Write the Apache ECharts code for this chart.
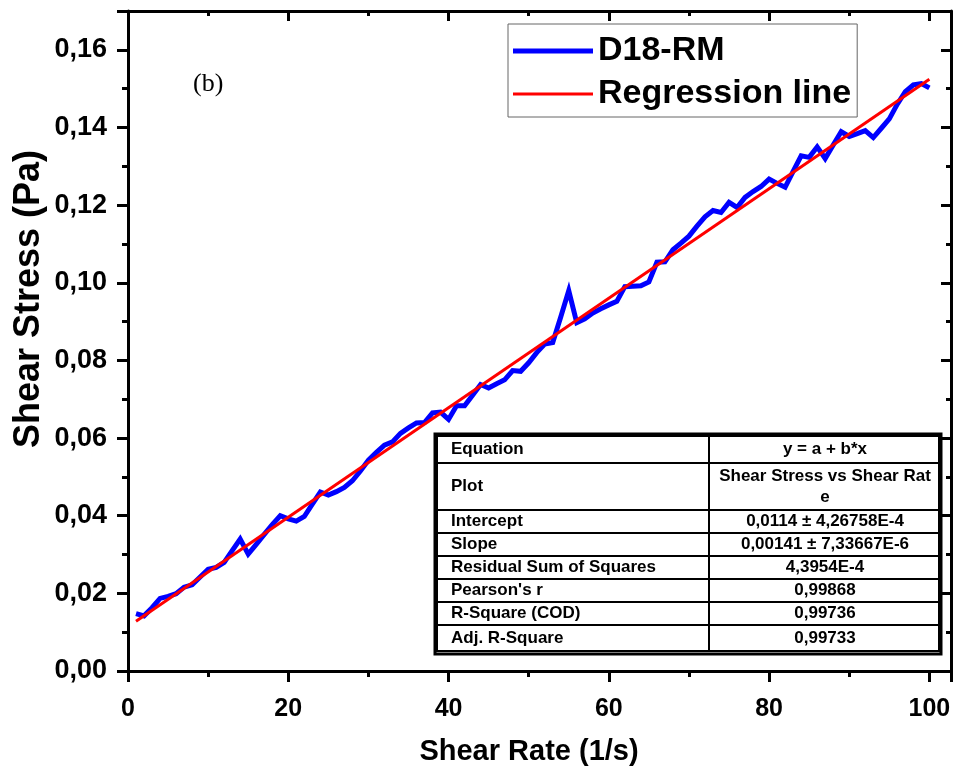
<!DOCTYPE html>
<html>
<head>
<meta charset="utf-8">
<title>Shear stress vs shear rate</title>
<script src="https://cdn.jsdelivr.net/npm/echarts/dist/echarts.min.js"></script>
<style>
  html, body { margin: 0; padding: 0; background: #fff; }
  #main { width: 954px; height: 779px; }
</style>
</head>
<body>
<div id="main"></div>
<script>
// measured curve D18-RM, shear rate 1..100 1/s
var shearStress = [
  0.0148, 0.0142, 0.0163, 0.0187, 0.0192, 0.0199, 0.0216, 0.0222, 0.0242, 0.0262,
  0.0267, 0.0280, 0.0310, 0.0340, 0.0301, 0.0326, 0.0352, 0.0377, 0.0400, 0.0392,
  0.0386, 0.0398, 0.0430, 0.0461, 0.0453, 0.0462, 0.0473, 0.0490, 0.0515, 0.0543,
  0.0563, 0.0582, 0.0590, 0.0612, 0.0626, 0.0639, 0.0640, 0.0665, 0.0667, 0.0648,
  0.0683, 0.0683, 0.0710, 0.0738, 0.0729, 0.0740, 0.0750, 0.0774, 0.0772, 0.0794,
  0.0820, 0.0842, 0.0846, 0.0912, 0.0980, 0.0897, 0.0907, 0.0922, 0.0933, 0.0943,
  0.0952, 0.0990, 0.0991, 0.0992, 0.1002, 0.1053, 0.1054, 0.1085, 0.1102, 0.1120,
  0.1146, 0.1170, 0.1186, 0.1181, 0.1207, 0.1194, 0.1220, 0.1235, 0.1248, 0.1267,
  0.1256, 0.1246, 0.1287, 0.1327, 0.1323, 0.1350, 0.1320, 0.1355, 0.1389, 0.1377,
  0.1384, 0.1392, 0.1374, 0.1398, 0.1422, 0.1460, 0.1492, 0.1510, 0.1513, 0.1502
];
var shearRate = shearStress.map(function (v, i) { return i + 1; });

// regression line end points
var regRate = [1, 100];
var regStress = [0.0128, 0.1524];

// fit table
var tableLabels = ["Equation", "Plot", "Intercept", "Slope", "Residual Sum of Squares",
  "Pearson's r", "R-Square (COD)", "Adj. R-Square"];
var tableValues = ["y = a + b*x", "Shear Stress vs Shear Rat\ne", "0,0114 \u00b1 4,26758E-4",
  "0,00141 \u00b1 7,33667E-6", "4,3954E-4", "0,99868", "0,99736", "0,99733"];

var chart = echarts.init(document.getElementById("main"));

var FONT = "Liberation Sans, Arial, sans-serif";

// table layout
var rowTops = [436, 463, 510, 533, 556, 579, 602, 625];
var tableBottom = 651;
var tLeft = 437, tMid = 709, tRight = 939;
var tableEls = [];
rowTops.forEach(function (top, i) {
  var bottom = i < rowTops.length - 1 ? rowTops[i + 1] : tableBottom;
  tableEls.push({
    type: "rect",
    shape: { x: tLeft, y: top, width: tMid - tLeft, height: bottom - top },
    style: { fill: "#fff", stroke: "#000", lineWidth: 2 }
  });
  tableEls.push({
    type: "rect",
    shape: { x: tMid, y: top, width: tRight - tMid, height: bottom - top },
    style: { fill: "#fff", stroke: "#000", lineWidth: 2 }
  });
  tableEls.push({
    type: "text",
    x: 451, y: (top + bottom) / 2,
    style: { text: tableLabels[i], font: "bold 17px " + FONT, fill: "#000",
      textAlign: "left", textVerticalAlign: "middle" }
  });
  tableEls.push({
    type: "text",
    x: (tMid + tRight) / 2 + 1, y: (top + bottom) / 2,
    style: { text: tableValues[i], font: "bold 17px " + FONT, fill: "#000",
      textAlign: "center", textVerticalAlign: "middle", lineHeight: 21 }
  });
});
tableEls.push({
  type: "rect",
  shape: { x: 435, y: 434, width: 506, height: 220 },
  style: { fill: "none", stroke: "#000", lineWidth: 3 }
});

function yLabel(v) {
  var k = v / 0.02;
  if (Math.abs(k - Math.round(k)) > 1e-6) return "";
  return v.toFixed(2).replace(".", ",");
}
function xLabel(v) {
  var k = v / 20;
  if (Math.abs(k - Math.round(k)) > 1e-6) return "";
  return String(Math.round(v));
}

var lineStyle = { color: "#000", width: 3 };

chart.setOption({
  backgroundColor: "#fff",
  animation: false,
  grid: { left: 128, top: 11, right: 3, bottom: 108 },
  legend: {
    orient: "vertical",
    left: 508,
    top: 24,
    padding: [9, 6, 5, 5],
    itemGap: 7,
    itemWidth: 80,
    itemHeight: 14,
    symbolKeepAspect: true,
    borderColor: "#666",
    borderWidth: 1,
    backgroundColor: "#fff",
    textStyle: { fontSize: 34, fontWeight: "bold", color: "#000", fontFamily: FONT, lineHeight: 36 },
    data: [
      { name: "D18-RM", icon: "path://M0,0H80V5H0Z" },
      { name: "Regression line", icon: "path://M0,0H80V3H0Z" }
    ]
  },
  xAxis: [
    {
      type: "value", position: "bottom", min: 0, max: 102.7, interval: 20,
      axisLine: { show: true, lineStyle: lineStyle },
      axisTick: { show: true, inside: false, length: 11, lineStyle: lineStyle },
      minorTick: { show: true, splitNumber: 2, length: 6, lineStyle: lineStyle },
      splitLine: { show: false },
      axisLabel: { formatter: xLabel, fontSize: 25, fontWeight: "bold", color: "#000", fontFamily: FONT, margin: 26 }
    },
    {
      type: "value", position: "top", min: 0, max: 102.7, interval: 20,
      axisLine: { show: true, onZero: false, lineStyle: lineStyle },
      axisTick: { show: true, inside: true, length: 10, lineStyle: lineStyle },
      minorTick: { show: true, splitNumber: 2, length: 5, lineStyle: lineStyle },
      splitLine: { show: false },
      axisLabel: { show: false }
    }
  ],
  yAxis: [
    {
      type: "value", position: "left", min: 0, max: 0.17, interval: 0.02,
      axisLine: { show: true, lineStyle: lineStyle },
      axisTick: { show: true, inside: false, length: 11, lineStyle: lineStyle },
      minorTick: { show: true, splitNumber: 2, length: 6, lineStyle: lineStyle },
      splitLine: { show: false },
      axisLabel: { formatter: yLabel, fontSize: 27, fontWeight: "bold", color: "#000", fontFamily: FONT, margin: 21 }
    },
    {
      type: "value", position: "right", min: 0, max: 0.17, interval: 0.02,
      axisLine: { show: true, onZero: false, lineStyle: lineStyle },
      axisTick: { show: true, inside: true, length: 10, lineStyle: lineStyle },
      minorTick: { show: true, splitNumber: 2, length: 5, lineStyle: lineStyle },
      splitLine: { show: false },
      axisLabel: { show: false }
    }
  ],
  series: [
    {
      name: "D18-RM",
      type: "line",
      symbol: "none",
      data: shearRate.map(function (x, i) { return [x, shearStress[i]]; }),
      lineStyle: { color: "#0000ff", width: 5, join: "miter" },
      itemStyle: { color: "#0000ff" },
      z: 2
    },
    {
      name: "Regression line",
      type: "line",
      symbol: "none",
      data: regRate.map(function (x, i) { return [x, regStress[i]]; }),
      lineStyle: { color: "#ff0000", width: 3 },
      itemStyle: { color: "#ff0000" },
      z: 3
    }
  ],
  graphic: [
    {
      type: "text", x: 193, y: 84,
      style: { text: "(b)", font: "26px Liberation Serif, Times New Roman, serif", fill: "#000",
        textVerticalAlign: "middle" }
    },
    {
      type: "text", x: 29, y: 299, rotation: Math.PI / 2,
      style: { text: "Shear Stress (Pa)", font: "bold 36px " + FONT, fill: "#000",
        textAlign: "center", textVerticalAlign: "middle" }
    },
    {
      type: "text", x: 529, y: 752,
      style: { text: "Shear Rate (1/s)", font: "bold 29px " + FONT, fill: "#000",
        textAlign: "center", textVerticalAlign: "middle" }
    },
    { type: "group", z: 100, children: tableEls }
  ]
});
</script>
</body>
</html>
